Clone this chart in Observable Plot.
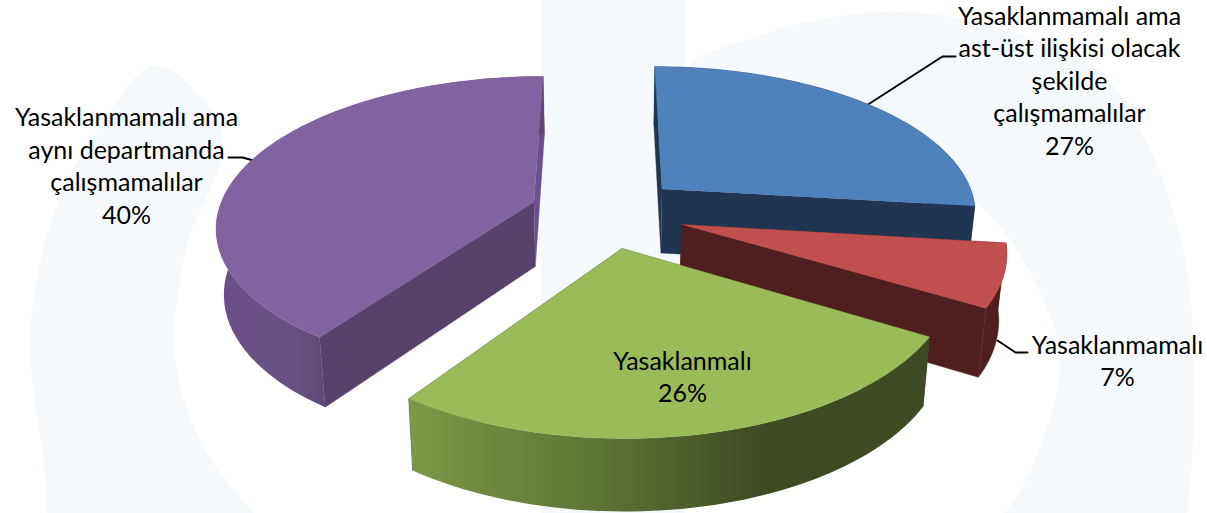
<!DOCTYPE html>
<html><head><meta charset="utf-8">
<script src="https://cdn.jsdelivr.net/npm/d3@7"></script>
<script src="https://cdn.jsdelivr.net/npm/@observablehq/plot@0.6"></script>
<style>html,body{margin:0;padding:0;background:#fff;overflow:hidden}svg{display:block}</style>
</head><body><div id="chart"></div>
<script>
const categories = ["Yasaklanmamalı ama\nast-üst ilişkisi olacak\nşekilde\nçalışmamalılar", "Yasaklanmamalı", "Yasaklanmalı", "Yasaklanmamalı ama\naynı departmanda\nçalışmamalılar"];
const shares = [27, 7, 26, 40];
const sliceSizes = [26.9, 6.6, 26.25, 40.25];
const topColors = ["#4f81bd", "#c0504d", "#9bbb59", "#8064a2"];
const startWallFills = ["#1f3552", "#4f1f1f", "#3e4a22", "#57426b"];
const endWallFills = ["#1f3552", "#4f1f1f", "#3e4a22", "#6b5090"];
const arcFills = ["#1f3552", "#4f1f1f", "url(#greenWall)", "url(#purpleWall)"];
const explosions = [0.245, 0.25, 0.24, 0.24];
const paintOrder = [0, 3, 1, 2];

const labelX = [1069, 1117, 682, 126];
const labelY = [79, 359, 375, 164];
const leaders = [
  [[866, 105], [942, 56], [955, 56]],
  [[997, 340], [1015, 352], [1027, 352]],
  [],
  [[253, 160], [242, 157], [228, 157]]
];
const bandX = [541, 685];
const ringOutline = [[690,65],[760,35],[820,19],[900,11],[1000,28],[1100,72],[1153,157],[1186,267],[1193,367],[1186,513],[1160,600],[930,600],[1020,490],[1060,367],[1050,317],[1017,250],[977,203],[860,120]];
const leafOutline = [[155,65],[100,125],[60,195],[36,280],[30,350],[42,450],[75,600],[310,600],[205,450],[175,360],[185,250],[222,135]];

// projection of the tilted pie
const Cx = 605, Cy = 212, A = 316, B = 148, kx = 0.15, ky = 0.155, depth = 65, depthK = 0.1, shrink = 0.98;
const project = (X, Y, bottom) => {
  const sx = Cx + A * X / (1 + kx * Y);
  const sy = Cy - B * Y / (1 + ky * Y);
  if (!bottom) return {x: sx, y: sy};
  return {x: Cx + (sx - Cx) * shrink, y: sy + depth * (1 - depthK * Y)};
};
const total = d3.sum(sliceSizes);
let run = 0;
const slices = sliceSizes.map((v, i) => {
  const a0 = run / total * 2 * Math.PI; run += v;
  const a1 = run / total * 2 * Math.PI;
  const mid = (a0 + a1) / 2;
  const ox = explosions[i] * Math.sin(mid), oy = explosions[i] * Math.cos(mid);
  const apex = b => project(ox, oy, b);
  const rim = b => d3.range(0, 61).map(t => {
    const a = a0 + (a1 - a0) * t / 60;
    return project(ox + Math.sin(a), oy + Math.cos(a), b);
  });
  const top = rim(false), bot = rim(true);
  return {
    top: [apex(false), ...top],
    arc: [...top, ...bot.slice().reverse()],
    startWall: [apex(false), top[0], bot[0], apex(true)],
    endWall: [apex(false), top[60], bot[60], apex(true)]
  };
});
const poly = (pts, fill) => Plot.line(pts, {x: "x", y: "y", fill, stroke: fill.startsWith("url") ? "none" : fill, strokeWidth: 0.4});
const outline = pts => pts.map(([x, y]) => ({x, y}));

const defs = () => {
  const g = document.createElementNS("http://www.w3.org/2000/svg", "g");
  g.innerHTML = `<defs>
  <linearGradient id="greenWall" gradientUnits="userSpaceOnUse" x1="410" x2="930" y1="0" y2="0">
    <stop offset="0" stop-color="#7d9847"/><stop offset="0.35" stop-color="#5f7535"/><stop offset="0.68" stop-color="#3e4a22"/><stop offset="1" stop-color="#3e4a22"/>
  </linearGradient>
  <linearGradient id="purpleWall" gradientUnits="userSpaceOnUse" x1="215" x2="325" y1="0" y2="0">
    <stop offset="0" stop-color="#6b5089"/><stop offset="0.7" stop-color="#6a5284"/><stop offset="1" stop-color="#5e4877"/>
  </linearGradient></defs>`;
  return g;
};

const pieMarks = paintOrder.flatMap(i => {
  const s = slices[i];
  return [
    poly(s.endWall, endWallFills[i]),
    poly(s.startWall, startWallFills[i]),
    poly(s.arc, arcFills[i]),
    poly(s.top, topColors[i])
  ];
});

const labels = categories.map((c, i) => ({text: `${c}\n${shares[i]}%`, x: labelX[i], y: labelY[i]}));

const plot = Plot.plot({
  width: 1207, height: 513, margin: 0,
  x: {domain: [0, 1207], range: [0, 1207], axis: null},
  y: {domain: [0, 513], range: [0, 513], axis: null},
  style: {background: "#fff"},
  marks: [
    defs,
    Plot.rect([{}], {x1: () => bandX[0], x2: () => bandX[1], y1: () => 0, y2: () => 513, fill: "#f5f9fb"}),
    Plot.line(outline(ringOutline), {x: "x", y: "y", fill: "#f5f9fb", curve: "catmull-rom-closed"}),
    Plot.line(outline(leafOutline), {x: "x", y: "y", fill: "#f5f9fb", curve: "catmull-rom-closed"}),
    ...leaders.filter(l => l.length).map(l => Plot.line(outline(l), {x: "x", y: "y", stroke: "#000", strokeWidth: 2})),
    ...pieMarks,
    Plot.text(labels, {x: "x", y: "y", text: "text", fill: "#000", textAnchor: "middle", lineAnchor: "middle", lineHeight: 1.3, fontFamily: "Lato", fontSize: 25})
  ]
});
document.getElementById("chart").append(plot);
</script></body></html>
